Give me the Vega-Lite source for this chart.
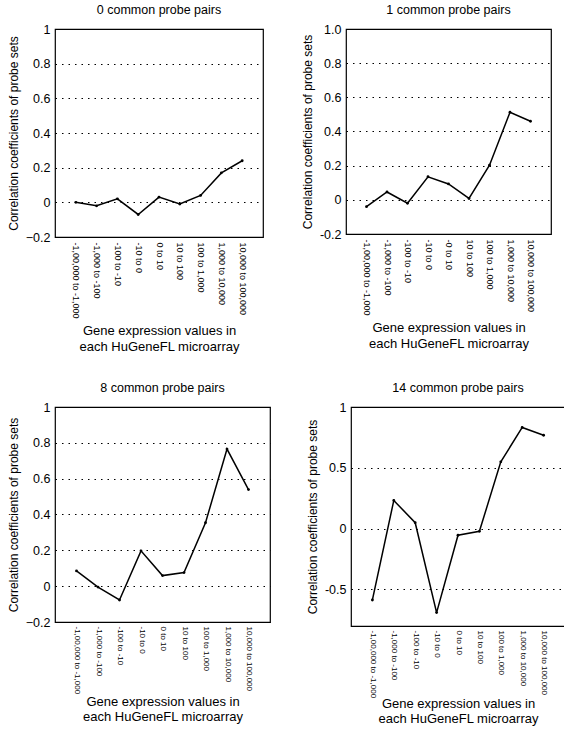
{
  "$schema": "https://vega.github.io/schema/vega-lite/v6.json",
  "padding": {"left": 6, "top": 2, "right": 2, "bottom": 2},
  "datasets": {
    "p0": [
      {"range": "-1,00,000 to -1,000", "r": 0.0},
      {"range": "-1,000 to -100", "r": -0.02},
      {"range": "-100 to -10", "r": 0.02},
      {"range": "-10 to 0", "r": -0.07},
      {"range": "0 to 10", "r": 0.03},
      {"range": "10 to 100", "r": -0.01},
      {"range": "100 to 1,000", "r": 0.04},
      {"range": "1,000 to 10,000", "r": 0.17},
      {"range": "10,000 to 100,000", "r": 0.24}
    ],
    "p1": [
      {"range": "-1,00,000 to -1,000", "r": -0.04},
      {"range": "-1,000 to -100", "r": 0.046},
      {"range": "-100 to -10", "r": -0.02},
      {"range": "-10 to 0", "r": 0.135},
      {"range": "-0 to 10", "r": 0.093},
      {"range": "10 to 100", "r": 0.008},
      {"range": "100 to 1,000", "r": 0.203},
      {"range": "1,000 to 10,000", "r": 0.513},
      {"range": "10,000 to 100,000", "r": 0.46}
    ],
    "p8": [
      {"range": "-1,00,000 to -1,000", "r": 0.085},
      {"range": "-1,000 to -100", "r": -0.005},
      {"range": "-100 to -10", "r": -0.077},
      {"range": "-10 to 0", "r": 0.197},
      {"range": "0 to 10", "r": 0.059},
      {"range": "10 to 100", "r": 0.076},
      {"range": "100 to 1,000", "r": 0.354},
      {"range": "1,000 to 10,000", "r": 0.765},
      {"range": "10,000 to 100,000", "r": 0.539}
    ],
    "p14": [
      {"range": "-1,00,000 to -1,000", "r": -0.586},
      {"range": "-1,000 to -100", "r": 0.232},
      {"range": "-100 to -10", "r": 0.049},
      {"range": "-10 to 0", "r": -0.69},
      {"range": "0 to 10", "r": -0.054},
      {"range": "10 to 100", "r": -0.022},
      {"range": "100 to 1,000", "r": 0.549},
      {"range": "1,000 to 10,000", "r": 0.832},
      {"range": "10,000 to 100,000", "r": 0.768}
    ]
  },
  "vconcat": [
    {
      "hconcat": [
        {
          "title": "0 common probe pairs",
          "width": 208, "height": 208,
          "data": {"name": "p0"},
          "encoding": {
            "x": {"field": "range", "type": "nominal", "sort": null, "scale": {"padding": 1},
                  "axis": {"title": ["Gene expression values in", "each HuGeneFL microarray"]}},
            "y": {"field": "r", "type": "quantitative", "scale": {"domain": [-0.2, 1], "nice": false, "zero": false},
                  "axis": {"values": [-0.2, 0, 0.2, 0.4, 0.6, 0.8, 1], "format": "~g", "title": "Correlation coefficients of probe sets"}}
          },
          "layer": [
            {"mark": {"type": "line", "color": "black", "strokeWidth": 1.5}},
            {"mark": {"type": "point", "filled": true, "color": "black", "size": 8, "opacity": 1}}
          ]
        },
        {
          "title": "1 common probe pairs",
          "width": 205, "height": 205,
          "data": {"name": "p1"},
          "encoding": {
            "x": {"field": "range", "type": "nominal", "sort": null, "scale": {"padding": 1},
                  "axis": {"title": ["Gene expression values in", "each HuGeneFL microarray"]}},
            "y": {"field": "r", "type": "quantitative", "scale": {"domain": [-0.2, 1], "nice": false, "zero": false},
                  "axis": {"values": [-0.2, 0, 0.2, 0.4, 0.6, 0.8, 1], "format": "~g", "title": "Correlation coefficients of probe sets",
                           "labelExpr": "datum.value == 1 ? '1.0' : (datum.value < 0 ? '-0.2' : datum.label)"}}
          },
          "layer": [
            {"mark": {"type": "line", "color": "black", "strokeWidth": 1.5}},
            {"mark": {"type": "point", "filled": true, "color": "black", "size": 8, "opacity": 1}}
          ]
        }
      ]
    },
    {
      "hconcat": [
        {
          "title": "8 common probe pairs",
          "width": 215, "height": 215,
          "data": {"name": "p8"},
          "encoding": {
            "x": {"field": "range", "type": "nominal", "sort": null, "scale": {"padding": 1},
                  "axis": {"title": ["Gene expression values in", "each HuGeneFL microarray"], "labelFontSize": 8, "labelPadding": 4, "titlePadding": 2, "titleLineHeight": 15}},
            "y": {"field": "r", "type": "quantitative", "scale": {"domain": [-0.2, 1], "nice": false, "zero": false},
                  "axis": {"values": [-0.2, 0, 0.2, 0.4, 0.6, 0.8, 1], "format": "~g", "title": "Correlation coefficients of probe sets"}}
          },
          "layer": [
            {"mark": {"type": "line", "color": "black", "strokeWidth": 1.5}},
            {"mark": {"type": "point", "filled": true, "color": "black", "size": 8, "opacity": 1}}
          ]
        },
        {
          "title": "14 common probe pairs",
          "width": 214, "height": 219,
          "data": {"name": "p14"},
          "encoding": {
            "x": {"field": "range", "type": "nominal", "sort": null, "scale": {"padding": 1},
                  "axis": {"title": ["Gene expression values in", "each HuGeneFL microarray"], "labelFontSize": 8, "labelPadding": 4, "titlePadding": 0, "titleLineHeight": 15}},
            "y": {"field": "r", "type": "quantitative", "scale": {"domain": [-0.8, 1], "nice": false, "zero": false},
                  "axis": {"values": [-0.5, 0, 0.5, 1], "format": "~g", "title": "Correlation coefficients of probe sets",
                           "labelExpr": "replace(datum.label, '\u2212', '-')"}}
          },
          "layer": [
            {"mark": {"type": "line", "color": "black", "strokeWidth": 1.5}},
            {"mark": {"type": "point", "filled": true, "color": "black", "size": 8, "opacity": 1}}
          ]
        }
      ],
      "spacing": 34
    }
  ],
  "spacing": 26,
  "config": {
    "font": "Liberation Sans",
    "concat": {"spacing": 36},
    "view": {"stroke": "black", "strokeWidth": 1.2},
    "title": {"fontSize": 12.5, "fontWeight": "normal", "offset": 7, "color": "black", "font": "Liberation Sans"},
    "axis": {"domain": false, "ticks": false, "labelColor": "black", "titleColor": "black", "titleFontWeight": "normal", "labelFont": "Liberation Sans", "titleFont": "Liberation Sans"},
    "axisY": {"grid": true, "gridColor": "black", "gridDash": [1.5, 5], "gridWidth": 1, "gridOpacity": 1, "labelFontSize": 12.5, "labelPadding": 5, "titleFontSize": 12, "titlePadding": 5},
    "axisX": {"grid": false, "labelAngle": 90, "labelFontSize": 9, "labelPadding": 5, "titleFontSize": 13, "titleLineHeight": 16, "titlePadding": 6, "labelLimit": 0}
  }
}
